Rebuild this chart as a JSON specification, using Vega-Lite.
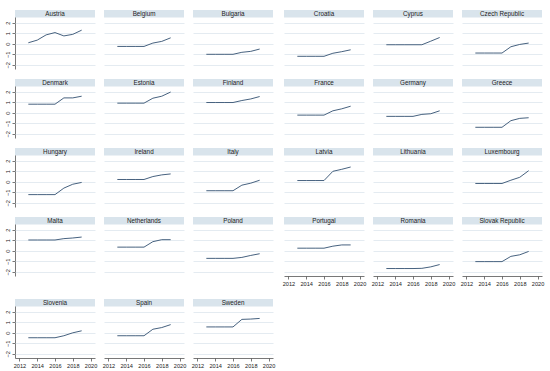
{
"$schema": "https://vega.github.io/schema/vega-lite/v6.json",
"background": "white",
"padding": {"left": 5, "top": 10, "right": 5, "bottom": 2},
"data": {"values": [
{"c":"Austria","y":2013,"v":0.1},{"c":"Austria","y":2014,"v":0.35},{"c":"Austria","y":2015,"v":0.85},{"c":"Austria","y":2016,"v":1.07},{"c":"Austria","y":2017,"v":0.75},{"c":"Austria","y":2018,"v":0.9},{"c":"Austria","y":2019,"v":1.3},
{"c":"Belgium","y":2013,"v":-0.25},{"c":"Belgium","y":2014,"v":-0.25},{"c":"Belgium","y":2015,"v":-0.25},{"c":"Belgium","y":2016,"v":-0.25},{"c":"Belgium","y":2017,"v":0.07},{"c":"Belgium","y":2018,"v":0.23},{"c":"Belgium","y":2019,"v":0.57},
{"c":"Bulgaria","y":2013,"v":-1.0},{"c":"Bulgaria","y":2014,"v":-1.0},{"c":"Bulgaria","y":2015,"v":-1.0},{"c":"Bulgaria","y":2016,"v":-1.0},{"c":"Bulgaria","y":2017,"v":-0.81},{"c":"Bulgaria","y":2018,"v":-0.72},{"c":"Bulgaria","y":2019,"v":-0.5},
{"c":"Croatia","y":2013,"v":-1.19},{"c":"Croatia","y":2014,"v":-1.19},{"c":"Croatia","y":2015,"v":-1.19},{"c":"Croatia","y":2016,"v":-1.19},{"c":"Croatia","y":2017,"v":-0.9},{"c":"Croatia","y":2018,"v":-0.75},{"c":"Croatia","y":2019,"v":-0.57},
{"c":"Cyprus","y":2013,"v":-0.09},{"c":"Cyprus","y":2014,"v":-0.09},{"c":"Cyprus","y":2015,"v":-0.09},{"c":"Cyprus","y":2016,"v":-0.09},{"c":"Cyprus","y":2017,"v":-0.09},{"c":"Cyprus","y":2018,"v":0.25},{"c":"Cyprus","y":2019,"v":0.6},
{"c":"Czech Republic","y":2013,"v":-0.88},{"c":"Czech Republic","y":2014,"v":-0.88},{"c":"Czech Republic","y":2015,"v":-0.88},{"c":"Czech Republic","y":2016,"v":-0.88},{"c":"Czech Republic","y":2017,"v":-0.28},{"c":"Czech Republic","y":2018,"v":-0.06},{"c":"Czech Republic","y":2019,"v":0.07},
{"c":"Denmark","y":2013,"v":0.82},{"c":"Denmark","y":2014,"v":0.82},{"c":"Denmark","y":2015,"v":0.82},{"c":"Denmark","y":2016,"v":0.82},{"c":"Denmark","y":2017,"v":1.42},{"c":"Denmark","y":2018,"v":1.42},{"c":"Denmark","y":2019,"v":1.58},
{"c":"Estonia","y":2013,"v":0.92},{"c":"Estonia","y":2014,"v":0.92},{"c":"Estonia","y":2015,"v":0.92},{"c":"Estonia","y":2016,"v":0.92},{"c":"Estonia","y":2017,"v":1.39},{"c":"Estonia","y":2018,"v":1.58},{"c":"Estonia","y":2019,"v":1.98},
{"c":"Finland","y":2013,"v":0.98},{"c":"Finland","y":2014,"v":0.98},{"c":"Finland","y":2015,"v":0.98},{"c":"Finland","y":2016,"v":0.98},{"c":"Finland","y":2017,"v":1.17},{"c":"Finland","y":2018,"v":1.32},{"c":"Finland","y":2019,"v":1.55},
{"c":"France","y":2013,"v":-0.22},{"c":"France","y":2014,"v":-0.22},{"c":"France","y":2015,"v":-0.22},{"c":"France","y":2016,"v":-0.22},{"c":"France","y":2017,"v":0.19},{"c":"France","y":2018,"v":0.38},{"c":"France","y":2019,"v":0.63},
{"c":"Germany","y":2013,"v":-0.34},{"c":"Germany","y":2014,"v":-0.34},{"c":"Germany","y":2015,"v":-0.34},{"c":"Germany","y":2016,"v":-0.34},{"c":"Germany","y":2017,"v":-0.15},{"c":"Germany","y":2018,"v":-0.09},{"c":"Germany","y":2019,"v":0.19},
{"c":"Greece","y":2013,"v":-1.38},{"c":"Greece","y":2014,"v":-1.38},{"c":"Greece","y":2015,"v":-1.38},{"c":"Greece","y":2016,"v":-1.38},{"c":"Greece","y":2017,"v":-0.75},{"c":"Greece","y":2018,"v":-0.53},{"c":"Greece","y":2019,"v":-0.47},
{"c":"Hungary","y":2013,"v":-1.22},{"c":"Hungary","y":2014,"v":-1.22},{"c":"Hungary","y":2015,"v":-1.22},{"c":"Hungary","y":2016,"v":-1.22},{"c":"Hungary","y":2017,"v":-0.6},{"c":"Hungary","y":2018,"v":-0.23},{"c":"Hungary","y":2019,"v":-0.06},
{"c":"Ireland","y":2013,"v":0.22},{"c":"Ireland","y":2014,"v":0.22},{"c":"Ireland","y":2015,"v":0.22},{"c":"Ireland","y":2016,"v":0.22},{"c":"Ireland","y":2017,"v":0.5},{"c":"Ireland","y":2018,"v":0.66},{"c":"Ireland","y":2019,"v":0.75},
{"c":"Italy","y":2013,"v":-0.85},{"c":"Italy","y":2014,"v":-0.85},{"c":"Italy","y":2015,"v":-0.85},{"c":"Italy","y":2016,"v":-0.85},{"c":"Italy","y":2017,"v":-0.32},{"c":"Italy","y":2018,"v":-0.13},{"c":"Italy","y":2019,"v":0.15},
{"c":"Latvia","y":2013,"v":0.12},{"c":"Latvia","y":2014,"v":0.12},{"c":"Latvia","y":2015,"v":0.12},{"c":"Latvia","y":2016,"v":0.12},{"c":"Latvia","y":2017,"v":1.0},{"c":"Latvia","y":2018,"v":1.19},{"c":"Latvia","y":2019,"v":1.41},
{"c":"Lithuania","y":2016,"v":null},
{"c":"Luxembourg","y":2013,"v":-0.16},{"c":"Luxembourg","y":2014,"v":-0.16},{"c":"Luxembourg","y":2015,"v":-0.16},{"c":"Luxembourg","y":2016,"v":-0.16},{"c":"Luxembourg","y":2017,"v":0.15},{"c":"Luxembourg","y":2018,"v":0.43},{"c":"Luxembourg","y":2019,"v":1.06},
{"c":"Malta","y":2013,"v":1.03},{"c":"Malta","y":2014,"v":1.03},{"c":"Malta","y":2015,"v":1.03},{"c":"Malta","y":2016,"v":1.03},{"c":"Malta","y":2017,"v":1.16},{"c":"Malta","y":2018,"v":1.22},{"c":"Malta","y":2019,"v":1.31},
{"c":"Netherlands","y":2013,"v":0.35},{"c":"Netherlands","y":2014,"v":0.35},{"c":"Netherlands","y":2015,"v":0.35},{"c":"Netherlands","y":2016,"v":0.35},{"c":"Netherlands","y":2017,"v":0.87},{"c":"Netherlands","y":2018,"v":1.06},{"c":"Netherlands","y":2019,"v":1.06},
{"c":"Poland","y":2013,"v":-0.72},{"c":"Poland","y":2014,"v":-0.72},{"c":"Poland","y":2015,"v":-0.72},{"c":"Poland","y":2016,"v":-0.72},{"c":"Poland","y":2017,"v":-0.63},{"c":"Poland","y":2018,"v":-0.44},{"c":"Poland","y":2019,"v":-0.28},
{"c":"Portugal","y":2013,"v":0.25},{"c":"Portugal","y":2014,"v":0.25},{"c":"Portugal","y":2015,"v":0.25},{"c":"Portugal","y":2016,"v":0.25},{"c":"Portugal","y":2017,"v":0.44},{"c":"Portugal","y":2018,"v":0.56},{"c":"Portugal","y":2019,"v":0.56},
{"c":"Romania","y":2013,"v":-1.69},{"c":"Romania","y":2014,"v":-1.69},{"c":"Romania","y":2015,"v":-1.69},{"c":"Romania","y":2016,"v":-1.69},{"c":"Romania","y":2017,"v":-1.67},{"c":"Romania","y":2018,"v":-1.53},{"c":"Romania","y":2019,"v":-1.31},
{"c":"Slovak Republic","y":2013,"v":-1.03},{"c":"Slovak Republic","y":2014,"v":-1.03},{"c":"Slovak Republic","y":2015,"v":-1.03},{"c":"Slovak Republic","y":2016,"v":-1.03},{"c":"Slovak Republic","y":2017,"v":-0.53},{"c":"Slovak Republic","y":2018,"v":-0.38},{"c":"Slovak Republic","y":2019,"v":-0.06},
{"c":"Slovenia","y":2013,"v":-0.47},{"c":"Slovenia","y":2014,"v":-0.47},{"c":"Slovenia","y":2015,"v":-0.47},{"c":"Slovenia","y":2016,"v":-0.47},{"c":"Slovenia","y":2017,"v":-0.28},{"c":"Slovenia","y":2018,"v":0.0},{"c":"Slovenia","y":2019,"v":0.19},
{"c":"Spain","y":2013,"v":-0.28},{"c":"Spain","y":2014,"v":-0.28},{"c":"Spain","y":2015,"v":-0.28},{"c":"Spain","y":2016,"v":-0.28},{"c":"Spain","y":2017,"v":0.34},{"c":"Spain","y":2018,"v":0.5},{"c":"Spain","y":2019,"v":0.78},
{"c":"Sweden","y":2013,"v":0.56},{"c":"Sweden","y":2014,"v":0.56},{"c":"Sweden","y":2015,"v":0.56},{"c":"Sweden","y":2016,"v":0.56},{"c":"Sweden","y":2017,"v":1.28},{"c":"Sweden","y":2018,"v":1.31},{"c":"Sweden","y":2019,"v":1.37}
]},
"spacing": 12,
"vconcat": [
{
"hconcat": [
{
"transform": [{"filter": {"field": "c", "oneOf": ["Austria","Belgium","Bulgaria","Denmark","Estonia","Finland","Hungary","Ireland","Italy","Malta","Netherlands","Poland"]}}],
"facet": {"field": "c", "type": "nominal", "title": null, "header": {"labels": false, "title": null, "labelFontSize": 0, "labelPadding": 0, "labelExpr": "''"}},
"columns": 3,
"spacing": {"row": 10, "column": 9},
"spec": {
  "width": 80, "height": 59,
  "layer": [
    {"mark": {"type": "line", "color": "#47627f", "strokeWidth": 1},
     "encoding": {
        "x": {"field": "y", "type": "quantitative", "scale": {"domain": [2011.5, 2020.5], "nice": false, "zero": false}, "axis": null},
        "y": {"field": "v", "type": "quantitative", "scale": {"domain": [-2.4, 3.22], "nice": false, "zero": false},
              "axis": {"title": null, "values": [-2, -1, 0, 1, 2], "tickCount": 10, "grid": true, "labelAngle": -90, "labelAlign": "center", "labelBaseline": "bottom", "format": "d", "labelOverlap": false}}}},
    {"transform": [{"aggregate": [{"op": "count", "as": "n"}], "groupby": ["c"]}],
     "mark": {"type": "rect", "color": "#d9e4ec"},
     "encoding": {"x": {"datum": 2011.5, "type": "quantitative"}, "x2": {"datum": 2020.5}, "y": {"datum": 2.5, "type": "quantitative"}, "y2": {"datum": 3.22}}},
    {"transform": [{"aggregate": [{"op": "count", "as": "n"}], "groupby": ["c"]}],
     "mark": {"type": "text", "font": "Liberation Sans", "fontSize": 6.3, "color": "#222", "baseline": "middle", "align": "center"},
     "encoding": {"x": {"datum": 2016, "type": "quantitative"}, "y": {"datum": 2.87, "type": "quantitative"}, "text": {"field": "c", "type": "nominal"}}}
  ]
}
},
{
"transform": [{"filter": {"field": "c", "oneOf": ["Croatia","Cyprus","Czech Republic","France","Germany","Greece","Latvia","Lithuania","Luxembourg","Portugal","Romania","Slovak Republic"]}}],
"facet": {"field": "c", "type": "nominal", "title": null, "header": {"labels": false, "title": null, "labelFontSize": 0, "labelPadding": 0, "labelExpr": "''"}},
"columns": 3,
"spacing": {"row": 10, "column": 9},
"spec": {
  "width": 80, "height": 59,
  "layer": [
    {"mark": {"type": "line", "color": "#47627f", "strokeWidth": 1},
     "encoding": {
        "x": {"field": "y", "type": "quantitative", "scale": {"domain": [2011.5, 2020.5], "nice": false, "zero": false},
              "axis": {"title": null, "values": [2012, 2014, 2016, 2018, 2020], "tickCount": 10, "grid": false, "format": "d", "labelFlush": false, "labelOverlap": false}},
        "y": {"field": "v", "type": "quantitative", "scale": {"domain": [-2.4, 3.22], "nice": false, "zero": false},
              "axis": {"title": null, "values": [-2, -1, 0, 1, 2], "tickCount": 10, "grid": true, "labels": false, "ticks": false, "domain": false}}}},
    {"transform": [{"aggregate": [{"op": "count", "as": "n"}], "groupby": ["c"]}],
     "mark": {"type": "rect", "color": "#d9e4ec"},
     "encoding": {"x": {"datum": 2011.5, "type": "quantitative"}, "x2": {"datum": 2020.5}, "y": {"datum": 2.5, "type": "quantitative"}, "y2": {"datum": 3.22}}},
    {"transform": [{"aggregate": [{"op": "count", "as": "n"}], "groupby": ["c"]}],
     "mark": {"type": "text", "font": "Liberation Sans", "fontSize": 6.3, "color": "#222", "baseline": "middle", "align": "center"},
     "encoding": {"x": {"datum": 2016, "type": "quantitative"}, "y": {"datum": 2.87, "type": "quantitative"}, "text": {"field": "c", "type": "nominal"}}}
  ]
}
}
],
"spacing": 9
},
{
"transform": [{"filter": {"field": "c", "oneOf": ["Slovenia","Spain","Sweden"]}}],
"facet": {"field": "c", "type": "nominal", "title": null, "header": {"labels": false, "title": null, "labelFontSize": 0, "labelPadding": 0, "labelExpr": "''"}},
"columns": 3,
"spacing": {"row": 10, "column": 9},
"spec": {
  "width": 80, "height": 59,
  "layer": [
    {"mark": {"type": "line", "color": "#47627f", "strokeWidth": 1},
     "encoding": {
        "x": {"field": "y", "type": "quantitative", "scale": {"domain": [2011.5, 2020.5], "nice": false, "zero": false},
              "axis": {"title": null, "values": [2012, 2014, 2016, 2018, 2020], "tickCount": 10, "grid": false, "format": "d", "labelFlush": false, "labelOverlap": false}},
        "y": {"field": "v", "type": "quantitative", "scale": {"domain": [-2.4, 3.22], "nice": false, "zero": false},
              "axis": {"title": null, "values": [-2, -1, 0, 1, 2], "tickCount": 10, "grid": true, "labelAngle": -90, "labelAlign": "center", "labelBaseline": "bottom", "format": "d", "labelOverlap": false}}}},
    {"transform": [{"aggregate": [{"op": "count", "as": "n"}], "groupby": ["c"]}],
     "mark": {"type": "rect", "color": "#d9e4ec"},
     "encoding": {"x": {"datum": 2011.5, "type": "quantitative"}, "x2": {"datum": 2020.5}, "y": {"datum": 2.5, "type": "quantitative"}, "y2": {"datum": 3.22}}},
    {"transform": [{"aggregate": [{"op": "count", "as": "n"}], "groupby": ["c"]}],
     "mark": {"type": "text", "font": "Liberation Sans", "fontSize": 6.3, "color": "#222", "baseline": "middle", "align": "center"},
     "encoding": {"x": {"datum": 2016, "type": "quantitative"}, "y": {"datum": 2.87, "type": "quantitative"}, "text": {"field": "c", "type": "nominal"}}}
  ]
}
}
],
"config": {
  "view": {"stroke": null},
  "headerFacet": {"labels": false, "title": null, "labelFontSize": 0, "labelPadding": 0},
  "header": {"labels": false, "labelFontSize": 0, "labelPadding": 0},
  "axis": {"labelFont": "Liberation Sans", "labelFontSize": 5.6, "labelColor": "#222", "domainColor": "#555", "domainWidth": 0.8, "tickColor": "#555", "tickWidth": 0.8, "tickSize": 3, "labelPadding": 2, "gridColor": "#dde6ed", "gridWidth": 0.8}
}
}
